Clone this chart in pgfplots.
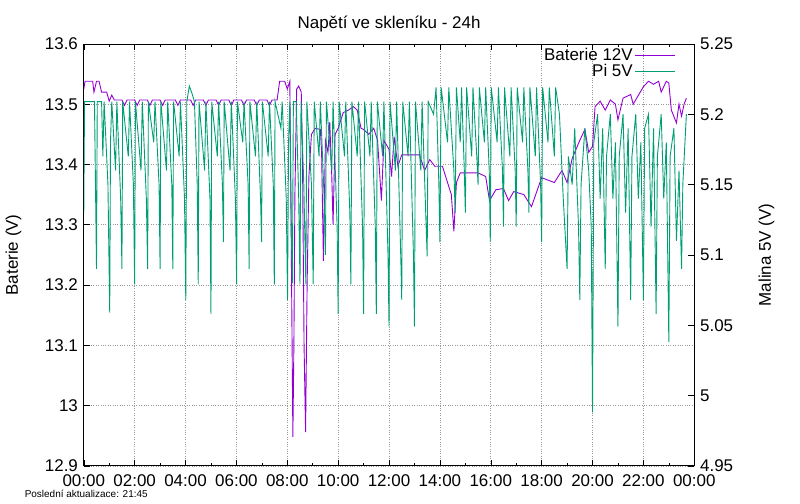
\documentclass[border=0pt]{standalone}
\usepackage{pgfplots}
\pgfplotsset{compat=1.18}
\usepackage{fontspec}
\setmainfont{Liberation Sans}
\definecolor{gp1}{HTML}{9400D3}
\definecolor{gp2}{HTML}{009E73}
\begin{document}
\fontsize{17}{19}\selectfont
\begin{tikzpicture}
\pgfplotsset{
  base/.style={width=612pt,height=423pt,scale only axis,xmin=0,xmax=24,
   /pgf/number format/assume math mode=true,
   tick style={black,line width=0.5pt},major tick length=6pt,minor tick length=3pt,
   tick align=inside,
   tick label style={font=\fontsize{17}{19}\selectfont},
   xticklabel style={yshift=-3pt},
   axis line style={line width=0.7pt},
   label style={font=\fontsize{17}{19}\selectfont},
   legend style={draw=none,fill=none,at={(1,1)},anchor=north east,font=\fontsize{17}{16}\selectfont,row sep=-3pt},
   legend plot pos=right,legend cell align=right}
}
\begin{axis}[base,
  ymin=12.9,ymax=13.6,ytick={12.9,13,...,13.6},
  yticklabels={12.9,13,13.1,13.2,13.3,13.4,13.5,13.6},
  ylabel={Baterie (V)},ylabel style={yshift=12pt},
  xtick={0,2,...,24},minor xtick={1,3,...,23},
  xticklabels={00:00,02:00,04:00,06:00,08:00,10:00,12:00,14:00,16:00,18:00,20:00,22:00,00:00},
  axis y line*=left,
  grid=major,grid style={gray!80,dotted,line width=0.6pt},
  title={Napětí ve skleníku - 24h},title style={yshift=0pt,font=\fontsize{17}{19}\selectfont},
  legend style={at={(0.975,1.0)}}]
\addlegendimage{legend image code/.code={\draw[draw=gp1,line width=1.2pt] (0pt,0pt)--(40pt,0pt);}}\addlegendentry{Baterie 12V}
\addlegendimage{legend image code/.code={\draw[draw=gp2,line width=1.2pt] (0pt,0pt)--(40pt,0pt);}}\addlegendentry{Pi 5V}
\addplot[gp1,line width=0.9pt,forget plot] coordinates {
(0,13.525)(0.05,13.538)(0.35,13.538)(0.4,13.52)(0.5,13.538)(0.6,13.538)(0.7,13.52)(0.9,13.52)(1.0,13.505)(1.1,13.515)(1.2,13.507)
(1.5,13.507)(1.6,13.498)(1.7,13.507)(2.0,13.507)(2.1,13.498)(2.2,13.507)(2.5,13.507)(2.6,13.498)(2.7,13.507)(3.0,13.507)(3.1,13.498)(3.2,13.507)(3.6,13.507)(3.7,13.498)(3.8,13.507)
(4.2,13.507)(4.3,13.498)(4.4,13.507)(4.7,13.507)(4.8,13.498)(4.9,13.507)(5.2,13.507)(5.3,13.498)(5.4,13.507)(5.7,13.507)(5.8,13.498)(5.9,13.507)(6.2,13.507)(6.3,13.498)(6.4,13.507)(6.7,13.507)(6.8,13.498)(6.9,13.507)(7.2,13.507)(7.3,13.498)(7.4,13.507)(7.6,13.507)
(7.7,13.538)(7.9,13.538)(8.0,13.525)(8.1,13.538)(8.15,13.3)(8.22,12.948)(8.26,13.1)(8.3,13.35)(8.37,13.525)(8.45,13.53)(8.55,13.52)(8.6,13.4)(8.66,13.1)(8.72,12.956)(8.78,13.2)(8.85,13.38)(8.95,13.45)(9.1,13.46)(9.3,13.458)
(9.35,13.42)(9.42,13.24)(9.5,13.44)(9.6,13.42)(9.67,13.47)(9.75,13.38)(9.8,13.3)(9.88,13.45)(10.0,13.46)(10.2,13.486)(10.4,13.49)(10.6,13.496)(10.75,13.49)(10.9,13.46)(11.0,13.458)(11.2,13.45)(11.4,13.46)(11.55,13.44)(11.7,13.34)(11.8,13.44)(12.0,13.425)
(12.1,13.38)(12.2,13.446)(12.35,13.397)(12.5,13.416)(13.2,13.416)(13.4,13.39)(13.6,13.408)(13.8,13.397)(14.1,13.397)(14.3,13.37)(14.45,13.35)(14.55,13.289)(14.65,13.37)(14.8,13.386)(15.5,13.386)(15.8,13.38)(15.95,13.34)
(16.2,13.358)(16.5,13.36)(16.7,13.34)(16.9,13.355)(17.3,13.35)(17.6,13.33)(18.0,13.378)(18.5,13.37)(18.8,13.39)(19.0,13.37)(19.2,13.41)(19.5,13.44)(19.7,13.458)(19.85,13.42)(20.0,13.43)(20.1,13.496)(20.3,13.505)(20.5,13.49)
(20.7,13.507)(20.9,13.50)(21.0,13.474)(21.2,13.51)(21.5,13.516)(21.6,13.50)(22.0,13.529)(22.2,13.538)(22.4,13.533)(22.6,13.538)(22.7,13.52)(22.9,13.538)(23.0,13.535)(23.1,13.49)(23.3,13.469)(23.4,13.50)(23.5,13.48)(23.6,13.50)(23.69,13.51)
};
\end{axis}
\begin{axis}[base,
  ymin=4.95,ymax=5.25,ytick={4.95,5,...,5.25},
  yticklabels={4.95,5,5.05,5.1,5.15,5.2,5.25},
  axis y line*=right,axis x line=none,
  ylabel={Malina 5V (V)},ylabel style={yshift=-14pt}]
\addplot[gp2,line width=0.9pt] coordinates {
(0,5.13)(0.03,5.209)(0.42,5.209)(0.46,5.15)(0.5,5.09)(0.53,5.209)(0.7,5.209)(0.75,5.17)(0.8,5.209)(0.95,5.15)(1.02,5.059)(1.05,5.18)(1.1,5.209)(1.25,5.16)(1.3,5.209)(1.45,5.14)(1.5,5.09)(1.53,5.209)(1.75,5.17)(1.8,5.209)(1.95,5.15)(2.0,5.079)(2.03,5.209)(2.25,5.16)(2.3,5.209)(2.46,5.14)(2.51,5.09)(2.54,5.209)(2.75,5.18)(2.8,5.209)(2.96,5.15)(3.0,5.09)(3.03,5.209)(3.25,5.16)(3.3,5.209)(3.46,5.15)(3.5,5.09)(3.53,5.209)(3.75,5.17)(3.8,5.209)(3.96,5.14)(4.01,5.068)(4.05,5.209)(4.15,5.22)(4.25,5.215)(4.35,5.209)(4.46,5.15)(4.5,5.079)(4.53,5.209)(4.75,5.16)(4.8,5.209)(4.96,5.14)(5.0,5.058)(5.03,5.209)(5.25,5.17)(5.3,5.209)(5.45,5.15)(5.49,5.109)(5.52,5.209)(5.75,5.16)(5.8,5.209)(5.96,5.14)(6.01,5.079)(6.04,5.209)(6.25,5.18)(6.3,5.209)(6.46,5.15)(6.5,5.09)(6.53,5.209)(6.75,5.17)(6.8,5.209)(6.95,5.14)(6.99,5.109)(7.02,5.209)(7.25,5.17)(7.3,5.209)(7.45,5.15)(7.49,5.079)(7.52,5.209)(7.75,5.19)(7.8,5.209)(7.96,5.14)(8.01,5.068)(8.05,5.18)(8.1,5.209)(8.16,5.12)(8.2,5.08)(8.24,5.209)(8.35,5.209)(8.45,5.14)(8.5,5.079)(8.54,5.209)(8.65,5.15)(8.73,5.079)(8.77,5.209)(8.95,5.15)(9.02,5.079)(9.06,5.209)(9.25,5.17)(9.3,5.209)(9.45,5.14)(9.5,5.10)(9.54,5.209)(9.75,5.16)(9.8,5.209)(9.96,5.12)(10.0,5.058)(10.04,5.209)(10.25,5.17)(10.3,5.209)(10.46,5.13)(10.5,5.079)(10.54,5.209)(10.75,5.17)(10.8,5.209)(10.96,5.12)(11.0,5.058)(11.04,5.209)(11.25,5.17)(11.3,5.209)(11.46,5.12)(11.5,5.058)(11.54,5.209)(11.75,5.17)(11.8,5.209)(11.96,5.10)(12.0,5.049)(12.04,5.209)(12.25,5.16)(12.3,5.209)(12.46,5.10)(12.5,5.068)(12.54,5.209)(12.75,5.17)(12.8,5.209)(12.96,5.10)(13.0,5.049)(13.04,5.209)(13.25,5.16)(13.3,5.209)(13.46,5.12)(13.5,5.099)(13.54,5.209)(13.75,5.2)(13.85,5.219)(13.96,5.15)(14.0,5.109)(14.05,5.219)(14.3,5.18)(14.35,5.219)(14.55,5.16)(14.6,5.13)(14.65,5.219)(14.8,5.18)(14.85,5.219)(14.96,5.16)(15.0,5.13)(15.05,5.219)(15.25,5.17)(15.3,5.219)(15.45,5.17)(15.5,5.15)(15.55,5.219)(15.75,5.18)(15.8,5.219)(15.94,5.16)(15.98,5.109)(16.02,5.219)(16.25,5.18)(16.3,5.219)(16.46,5.16)(16.5,5.12)(16.54,5.219)(16.75,5.17)(16.8,5.219)(16.96,5.16)(17.0,5.12)(17.04,5.219)(17.25,5.18)(17.3,5.219)(17.46,5.16)(17.5,5.13)(17.54,5.219)(17.75,5.17)(17.8,5.219)(17.96,5.15)(18.0,5.109)(18.04,5.219)(18.25,5.18)(18.3,5.219)(18.5,5.17)(18.55,5.219)(18.7,5.2)(18.85,5.14)(19.0,5.09)(19.05,5.17)(19.2,5.15)(19.3,5.19)(19.45,5.12)(19.5,5.068)(19.55,5.15)(19.7,5.19)(19.85,5.16)(19.95,5.12)(20.0,4.988)(20.05,5.18)(20.2,5.20)(20.3,5.14)(20.4,5.19)(20.5,5.09)(20.55,5.17)(20.7,5.20)(20.8,5.14)(20.9,5.18)(21.0,5.049)(21.05,5.17)(21.2,5.20)(21.3,5.13)(21.4,5.19)(21.5,5.068)(21.55,5.17)(21.7,5.20)(21.8,5.14)(21.9,5.18)(22.0,5.068)(22.05,5.19)(22.2,5.20)(22.3,5.12)(22.4,5.19)(22.5,5.058)(22.55,5.17)(22.7,5.20)(22.8,5.14)(22.9,5.18)(23.0,5.038)(23.05,5.17)(23.2,5.19)(23.3,5.11)(23.4,5.16)(23.5,5.09)(23.55,5.15)(23.69,5.20)
};
\end{axis}
\node[anchor=base west,font=\fontsize{10}{11}\selectfont] at (-65pt,-31.5pt) {Poslední aktualizace: 21:45};
\path[use as bounding box] (-82pt,-33pt) rectangle (718pt,467pt);
\end{tikzpicture}
\end{document}
